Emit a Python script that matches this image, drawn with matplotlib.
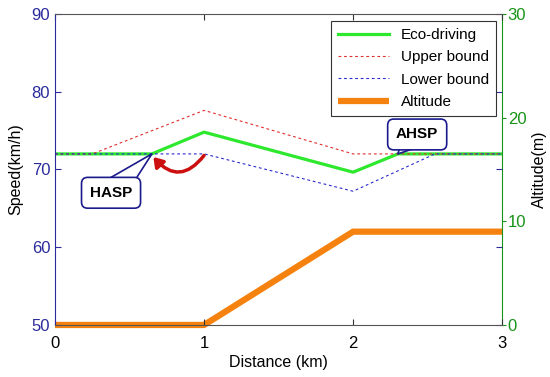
import numpy as np
import matplotlib
matplotlib.use('Agg')
from matplotlib import pyplot as plt

plt.rcParams['font.family'] = ['Liberation Sans', 'DejaVu Sans']

# speed profiles (km/h) vs distance (km)
dist_eco = [0, 0.65, 1.0, 2.0, 2.3, 3.0]
eco_speed = [72, 72, 74.8, 69.65, 72, 72]
dist_upper = [0, 0.25, 1.0, 2.0, 3.0]
upper_speed = [72, 72, 77.6, 72, 72]
dist_lower = [0, 1.0, 2.0, 2.55, 3.0]
lower_speed = [72, 72, 67.2, 72, 72]

# road altitude (m)
dist_alt = [0, 1, 2, 3]
altitude = [0, 0, 9, 9]

# callout points
hasp = (0.65, 72)
ahsp = (2.3, 72)

left_c = '#2b2b9c'
right_c = '#179317'


def main():
    fig = plt.figure(figsize=(5.5, 3.77), dpi=100)
    ax = fig.add_axes([0.1, 0.138, 0.813, 0.825])
    ax2 = ax.twinx()
    ax.set_zorder(ax2.get_zorder() + 1)
    ax.patch.set_visible(False)

    l1, = ax.plot(dist_eco, eco_speed, color='#2ee82e', lw=2.3, label='Eco-driving')
    l2, = ax.plot(dist_upper, upper_speed, color='#e03030', lw=0.8,
                  ls=(0, (2.5, 2.5)), label='Upper bound')
    l3, = ax.plot(dist_lower, lower_speed, color='#2a2ad0', lw=0.8,
                  ls=(0, (2.5, 2.5)), label='Lower bound')
    l4, = ax2.plot(dist_alt, altitude, color='#f5820f', lw=4.5,
                   solid_capstyle='butt', clip_on=False, label='Altitude')

    ax.set_xlim(0, 3)
    ax.set_ylim(50, 90)
    ax.set_xticks([0, 1, 2, 3])
    ax.set_yticks([50, 60, 70, 80, 90])
    ax2.set_ylim(0, 30)
    ax2.set_yticks([0, 10, 20, 30])

    ax.tick_params(axis='x', direction='in', top=True, length=4, labelsize=12,
                   colors='#333333', labelcolor='black', pad=8)
    ax.tick_params(axis='y', direction='in', right=True, length=4, labelsize=12,
                   colors=left_c)
    ax2.tick_params(axis='y', direction='out', length=3, labelsize=12,
                    colors=right_c, pad=1)

    ax.spines['left'].set_color(left_c)
    ax.spines['right'].set_visible(False)
    ax.spines['top'].set_color('#555555')
    ax.spines['bottom'].set_color('#555555')
    ax2.spines['right'].set_color(right_c)
    ax2.spines['left'].set_visible(False)
    ax2.spines['top'].set_visible(False)
    ax2.spines['bottom'].set_visible(False)

    ax.set_xlabel('Distance (km)', fontsize=11.5, labelpad=3)
    ax.set_ylabel('Speed(km/h)', fontsize=11.5, labelpad=6)
    ax2.set_ylabel('Altitude(m)', fontsize=11.5, labelpad=4)

    # red curved arrow
    ax.annotate('', xy=(0.66, 71.6), xytext=(1.0, 71.8),
                arrowprops=dict(arrowstyle='-|>,head_length=0.45,head_width=0.3',
                                color='#cc1010', lw=2.5, mutation_scale=12,
                                connectionstyle='arc3,rad=-0.6',
                                shrinkA=0, shrinkB=0))

    box = dict(boxstyle='round,pad=0.55,rounding_size=0.4', fc='white',
               ec='#1a1a8c', lw=1.2)
    wedge = dict(arrowstyle='wedge,tail_width=1.8,shrink_factor=0.5', fc='white',
                 ec='#1a1a8c', lw=1.2, shrinkA=0, shrinkB=0, patchA=None)
    ax.annotate('HASP', xy=hasp, xytext=(0.376, 67.0), ha='center', va='center',
                fontsize=11, fontweight='bold', bbox=box, arrowprops=wedge)
    ax.annotate('AHSP', xy=ahsp, xytext=(2.43, 74.5), ha='center', va='center',
                fontsize=11, fontweight='bold', bbox=box, arrowprops=wedge)

    leg = ax.legend(handles=[l1, l2, l3, l4], loc='upper right',
                    bbox_to_anchor=(0.986, 0.977), fontsize=11, fancybox=False,
                    framealpha=1, edgecolor='#333333', handlelength=3.3,
                    labelspacing=0.55, borderpad=0.45, borderaxespad=0)
    leg.get_frame().set_linewidth(0.8)

    fig.savefig('out.png', dpi=100)


if __name__ == '__main__':
    main()
